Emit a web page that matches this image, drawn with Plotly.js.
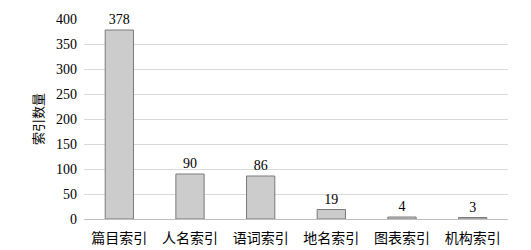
<!DOCTYPE html>
<html>
<head>
<meta charset="utf-8">
<script src="https://cdn.plot.ly/plotly-3.0.1.min.js"></script>
<style>html,body{margin:0;padding:0;background:#fff}#chart{width:531px;height:250px}</style>
</head>
<body>
<div id="chart"></div>
<script>
// Index types and how many entries each contains
const categories = ['篇目索引', '人名索引', '语词索引', '地名索引', '图表索引', '机构索引'];
const counts = [378, 90, 86, 19, 4, 3];
const yTicks = [0, 50, 100, 150, 200, 250, 300, 350, 400];

const serif = 'Liberation Serif, Times New Roman, serif';
const cjk = 'Noto Sans CJK SC, sans-serif';

Plotly.newPlot('chart', [{
  type: 'bar',
  x: categories,
  y: counts,
  text: counts.map(String),
  textposition: 'outside',
  cliponaxis: false,
  textfont: {family: serif, size: 14, color: '#000'},
  marker: {color: '#cccccc', line: {color: '#7a7a7a', width: 1}},
  hoverinfo: 'skip'
}], {
  width: 531, height: 250,
  margin: {l: 84, r: 23, t: 19, b: 31},
  paper_bgcolor: '#fff', plot_bgcolor: '#fff',
  bargap: 0.6,
  showlegend: false,
  xaxis: {
    showline: false, showgrid: false, ticks: '',
    ticklabelstandoff: 9,
    tickfont: {family: cjk, size: 14, color: '#000'}
  },
  yaxis: {
    range: [0, 400], tickvals: yTicks,
    showgrid: true, gridcolor: '#d9d9d9', gridwidth: 1,
    zeroline: true, zerolinecolor: '#bfbfbf', zerolinewidth: 1,
    showline: false, ticks: '',
    ticklabelstandoff: 6,
    tickfont: {family: serif, size: 14, color: '#000'},
    title: {text: '索引数量', font: {family: cjk, size: 13, color: '#000'}, standoff: 9}
  }
}, {staticPlot: true, displayModeBar: false});
</script>
</body>
</html>
